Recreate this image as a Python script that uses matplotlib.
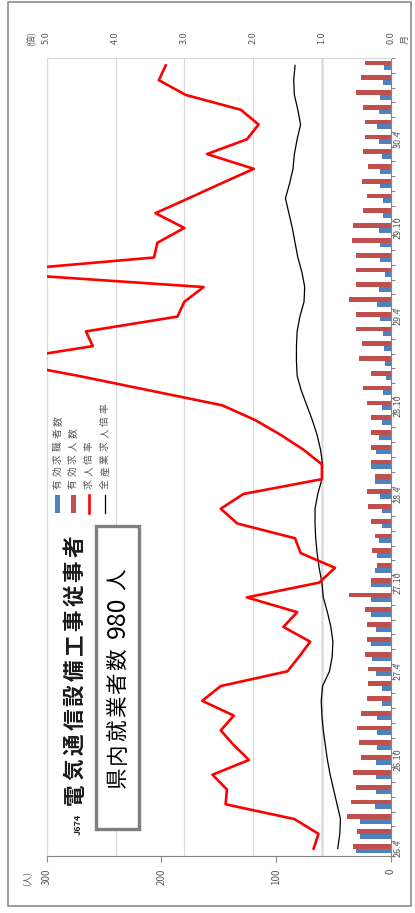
import numpy as np
import matplotlib
matplotlib.use("Agg")
import matplotlib.pyplot as plt
from matplotlib.patches import Rectangle
from matplotlib.lines import Line2D

plt.rcParams['font.family'] = ['Noto Sans CJK JP', 'DejaVu Sans']

# monthly data, 26.4 (bottom) .. 30.9 (top)
job_openings = [33, 29, 38, 35, 30, 33, 26, 28, 29, 26,
                21, 20, 20, 22, 21, 21, 22, 36, 17, 12,
                16, 14, 17, 20, 21, 14, 17, 17, 17, 17,
                21, 24, 17, 28, 25, 30, 30, 36, 30, 30,
                30, 34, 33, 24, 21, 25, 20, 24, 22, 22,
                24, 30, 26, 22]
job_seekers = [30, 27, 27, 14, 13, 13, 13, 12, 12, 12,
               8, 8, 13, 16, 17, 13, 17, 17, 17, 14,
               12, 10, 8, 8, 9, 14, 17, 13, 10, 8,
               8, 7, 4, 5, 6, 7, 9, 12, 10, 5,
               9, 9, 10, 7, 7, 9, 9, 8, 10, 12,
               10, 9, 7, 6]
ratio_job = [1.12, 1.05, 1.40, 2.40, 2.38, 2.59, 2.06, 2.28, 2.47, 2.28,
             2.74, 2.47, 1.50, 1.33, 1.17, 1.56, 1.36, 2.09, 1.04, 0.81,
             1.31, 1.39, 2.23, 2.47, 2.14, 1.00, 1.00, 1.27, 1.60, 1.97,
             2.45, 3.50, 4.55, 5.70, 4.33, 4.43, 3.10, 3.00, 2.72, 5.90,
             3.44, 3.39, 3.00, 3.42, 2.94, 2.47, 1.99, 2.67, 2.09, 1.92,
             2.18, 2.98, 3.37, 3.27]
ratio_all = [0.77, 0.74, 0.73, 0.78, 0.83, 0.88, 0.92, 0.95, 0.98, 1.00,
             1.01, 0.99, 0.89, 0.85, 0.84, 0.87, 0.92, 0.98, 1.00, 1.04,
             1.07, 1.09, 1.10, 1.10, 1.06, 1.00, 0.99, 1.02, 1.07, 1.14,
             1.22, 1.30, 1.36, 1.37, 1.37, 1.36, 1.32, 1.26, 1.25, 1.29,
             1.35, 1.39, 1.43, 1.48, 1.53, 1.47, 1.42, 1.40, 1.36, 1.31,
             1.35, 1.40, 1.41, 1.39]
month_labels = ["26.4", "26.10", "27.4", "27.10", "28.4", "28.10", "29.4", "29.10", "30.4"]
count_ticks = [0, 100, 200, 300]
ratio_ticks = [0, 1, 2, 3, 4, 5]

W_PX, H_PX = 415, 913
TXT = "#595959"
GRID = "#d9d9d9"
AXC = "#868686"


def fx(x):
    return x / W_PX


def fy(y):
    return 1 - y / H_PX


fig = plt.figure(figsize=(W_PX / 100, H_PX / 100), dpi=100)


def vtext(x, y, s, **kw):
    fig.text(fx(x), fy(y), s, rotation=90, ha="center", va="center", **kw)


def vchars(x, y, s, pitch, **kw):
    # stretched vertical text: one glyph at a time
    for i, ch in enumerate(s):
        vtext(x, y - i * pitch, ch, **kw)


L, R, T, B = 46.7, 390.7, 58, 856
ax = fig.add_axes([fx(L), fy(B), (R - L) / W_PX, (B - T) / H_PX])
n = len(job_openings)
k = np.arange(n)
ax.barh(k - 0.16, job_seekers, height=0.32, color="#4F81BD", zorder=2)
ax.barh(k + 0.16, job_openings, height=0.32, color="#C0504D", zorder=2)
ax.set_xlim(300, 0)
ax.set_ylim(-0.5, n - 0.5)

for s in ("left", "top"):
    ax.spines[s].set_color(GRID)
for s in ("bottom", "right"):
    ax.spines[s].set_color(AXC)
ax.set_xticks(count_ticks)
ax.set_xticklabels([str(v) for v in count_ticks])
ax.tick_params(axis="x", length=4, color=AXC, labelsize=7, labelcolor=TXT,
               labelrotation=90, pad=5)

ax.yaxis.set_ticks_position("right")
ax.set_yticks(np.arange(-0.5, n, 1))
ax.set_yticklabels([])
ax.set_yticks(range(0, 6 * len(month_labels), 6), labels=month_labels, minor=True)
ax.tick_params(axis="y", which="major", length=3, color=AXC, right=True, left=False)
ax.tick_params(axis="y", which="minor", length=0, right=True, left=False,
               labelright=True, labelleft=False, labelsize=6.5, labelcolor=TXT,
               labelrotation=90, pad=2)
for t in ax.get_yticklabels(minor=True):
    t.set_va("center")

ax2 = ax.twiny()
ax2.set_xlim(5, 0)
ax2.set_xticks(ratio_ticks)
ax2.set_xticklabels([f"{v:.1f}" for v in ratio_ticks])
ax2.tick_params(axis="x", length=0, labelsize=6.5, labelcolor=TXT,
                labelrotation=90, pad=10)
ax2.grid(axis="x", color=GRID, lw=0.8, zorder=0)
ax2.axvline(1.0, color="#8c8c8c", lw=1.0, zorder=1)
for s in ax2.spines.values():
    s.set_visible(False)
ax2.plot(ratio_all, k, color="black", lw=0.9, zorder=3)
ax2.plot(ratio_job, k, color="#ff0000", lw=1.9, zorder=4)

# unit labels
vtext(30, 38, "(倍)", size=6.5, color=TXT)
vtext(28, 878, "(人)", size=6.5, color=TXT)
vtext(405, 40, "月", size=6.5, color=TXT)

# legend
leg_x = [57.5, 73, 89, 105]
leg_names = ["有効求職者数", "有効求人数", "求人倍率", "全産業求人倍率"]
fig.add_artist(Rectangle((fx(55), fy(513)), 5 / W_PX, 18 / H_PX,
                         transform=fig.transFigure, color="#4F81BD", lw=0))
fig.add_artist(Rectangle((fx(70.5), fy(513)), 5 / W_PX, 18 / H_PX,
                         transform=fig.transFigure, color="#C0504D", lw=0))
fig.add_artist(Line2D([fx(89), fx(89)], [fy(513), fy(495)],
                      transform=fig.transFigure, color="#ff0000", lw=1.9))
fig.add_artist(Line2D([fx(105), fx(105)], [fy(513), fy(495)],
                      transform=fig.transFigure, color="black", lw=0.9))
for x, name in zip(leg_x, leg_names):
    vchars(x, 484, name, 12.6, size=7, color=TXT)

# title
vtext(78, 824, "J674", size=6.5, weight="bold", color="#262626")
vchars(75, 794, "電気通信設備工事従事者", 24.8, size=15.5, weight="bold", color="#1a1a1a")

# employment box
fig.add_artist(Rectangle((fx(96), fy(829)), 43 / W_PX, 303 / H_PX,
                         transform=fig.transFigure, facecolor="white",
                         edgecolor="#7f7f7f", lw=2.4, zorder=5))
vchars(118, 777, "県内就業者数", 23.5, size=15.5, color="black", zorder=6)
vtext(118, 617, "980", size=18, color="black", zorder=6)
vtext(118, 579, "人", size=15.5, color="black", zorder=6)

# outer frame
fig.add_artist(Rectangle((fx(8), fy(906)), 403 / W_PX, 904 / H_PX,
                         transform=fig.transFigure, fill=False,
                         edgecolor="#8c8c8c", lw=1.2))

fig.savefig("out.png", dpi=100)
